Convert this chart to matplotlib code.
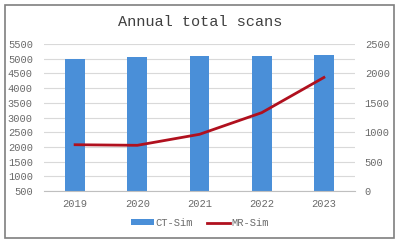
import numpy as np
import matplotlib.pyplot as plt
from matplotlib.patches import Rectangle

years = ['2019', '2020', '2021', '2022', '2023']
ct_sim = [4990, 5065, 5090, 5090, 5135]
mr_sim = [787, 777, 964, 1332, 1931]

left_ticks = list(range(500, 5501, 500))
right_ticks = list(range(0, 2501, 500))

plt.rcParams['font.family'] = ['Liberation Mono', 'DejaVu Sans Mono']

fig = plt.figure(figsize=(4, 2.44), dpi=100)
ax = fig.add_axes([44/400, 1 - 191/244, 311/400, 147/244])
ax2 = ax.twinx()

x = np.arange(len(years))
ax.bar(x, ct_sim, width=0.32, color='#4a8fd8', label='CT-Sim', zorder=2)
ax2.plot(x, mr_sim, color='#b0101e', lw=2, label='MR-Sim', zorder=3)

ax.set_xlim(-0.5, len(years) - 0.5)
ax.set_ylim(500, 5500)
ax2.set_ylim(0, 2500)
ax.set_yticks(left_ticks)
ax2.set_yticks(right_ticks)
ax.set_xticks(x)
ax.set_xticklabels(years)

ax.grid(axis='y', color='#d9d9d9', lw=0.8, zorder=0)
ax.set_axisbelow(True)
for a in (ax, ax2):
    for s in a.spines.values():
        s.set_visible(False)
    a.tick_params(length=0, labelsize=7.5, labelcolor='#6a6a6a')
ax.spines['bottom'].set_visible(True)
ax.spines['bottom'].set_color('#bfbfbf')
ax.tick_params(axis='y', pad=8)
ax.tick_params(axis='x', pad=6)
ax2.tick_params(axis='y', pad=7)

fig.text(0.5, 1 - 22/244, 'Annual total scans', ha='center', va='center',
         fontsize=11, color='#404040')

h1, l1 = ax.get_legend_handles_labels()
h2, l2 = ax2.get_legend_handles_labels()
fig.legend(h1 + h2, l1 + l2, loc='center', bbox_to_anchor=(0.5, 1 - 223/244),
           ncol=2, frameon=False, fontsize=7.5, labelcolor='#6a6a6a',
           handlelength=2.2, handleheight=0.5, handletextpad=0.15,
           columnspacing=1.3)

fig.patches.append(Rectangle((4.5/400, 1 - 237.5/244), 389/400, 233/244,
                             transform=fig.transFigure, fill=False,
                             edgecolor='#7f7f7f', lw=1.2))

fig.savefig('out.png', dpi=100)
